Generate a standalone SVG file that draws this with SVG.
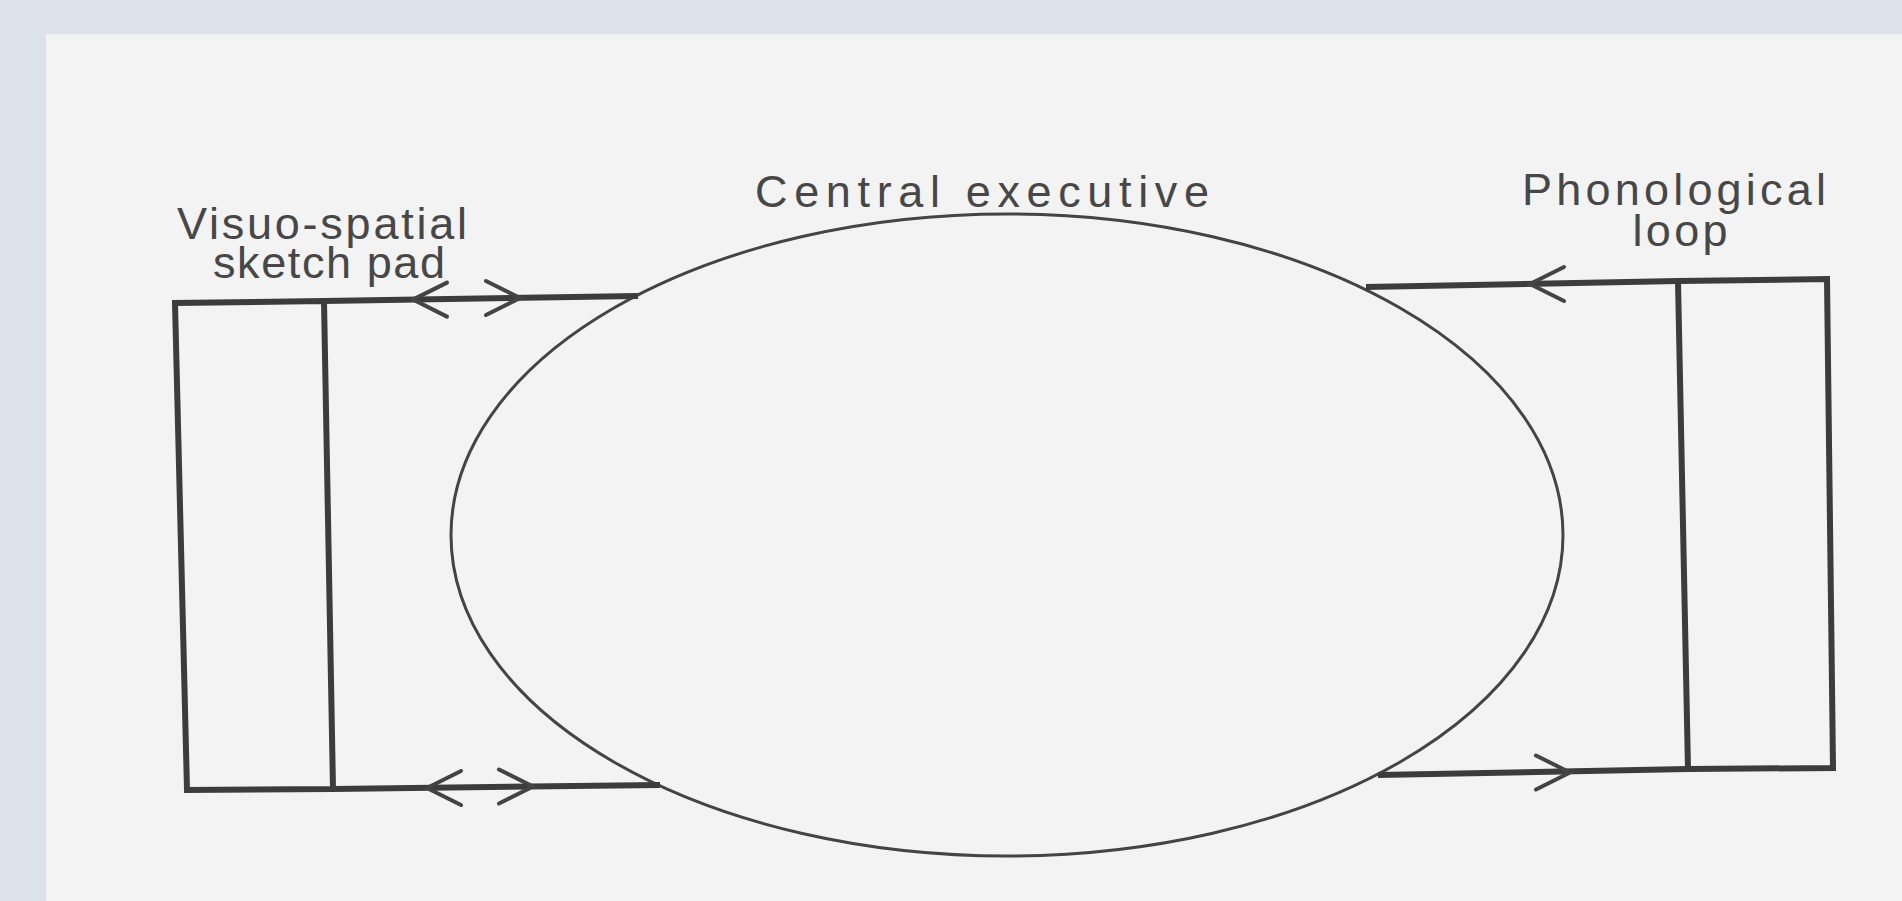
<svg xmlns="http://www.w3.org/2000/svg" xmlns:xlink="http://www.w3.org/1999/xlink" width="1902" height="901" viewBox="0 0 1902 901">
<style>
.lbl{font-family:"Liberation Sans",Arial,sans-serif;font-size:45px;fill:#474747}
.box{fill:none;stroke:#3c3c3c;stroke-width:6;stroke-linejoin:miter}
.conn{fill:none;stroke:#3c3c3c;stroke-width:6}
.head{fill:none;stroke:#444;stroke-width:4;stroke-linecap:round;stroke-linejoin:miter}
.ell{fill:none;stroke:#444;stroke-width:3}
</style>
<defs>
<path id="chev" class="head" d="M-34,-17 L0,0 L-34,17"/>
</defs>
<rect x="0" y="0" width="1902" height="901" fill="#dde2ea"/>
<rect x="46" y="34" width="1856" height="867" fill="#f3f3f3"/>
<g id="central-executive">
<ellipse class="ell" cx="1007" cy="535" rx="556" ry="321"/>
<text class="lbl" x="982" y="207" text-anchor="middle" textLength="454" lengthAdjust="spacing">Central executive</text>
</g>
<g id="visuo-spatial-sketch-pad">
<path class="box" d="M324,301 L175,303 L187,790 L333,789 M324,301 L333,789"/>
<text class="lbl" x="322" y="239" text-anchor="middle" textLength="290" lengthAdjust="spacing">Visuo-spatial</text>
<text class="lbl" x="329" y="278" text-anchor="middle" textLength="232" lengthAdjust="spacing">sketch pad</text>
</g>
<g id="phonological-loop">
<path class="box" d="M1678,281 L1827,279 L1833,768 L1688,769 M1678,281 L1688,769"/>
<text class="lbl" x="1674" y="205" text-anchor="middle" textLength="304" lengthAdjust="spacing">Phonological</text>
<text class="lbl" x="1680" y="246" text-anchor="middle" textLength="95" lengthAdjust="spacing">loop</text>
</g>
<g id="connectors">
<path class="conn" d="M324,301 L638,296"/>
<use xlink:href="#chev" transform="translate(413,299.6) rotate(180)"/>
<use xlink:href="#chev" transform="translate(520,298)"/>
<path class="conn" d="M333,789 L660,785"/>
<use xlink:href="#chev" transform="translate(427,788) rotate(180)"/>
<use xlink:href="#chev" transform="translate(533,786.5)"/>
<path class="conn" d="M1366,287 L1678,281"/>
<use xlink:href="#chev" transform="translate(1530,284) rotate(180)"/>
<path class="conn" d="M1378,775 L1688,769"/>
<use xlink:href="#chev" transform="translate(1570,772.5)"/>
</g>
</svg>
